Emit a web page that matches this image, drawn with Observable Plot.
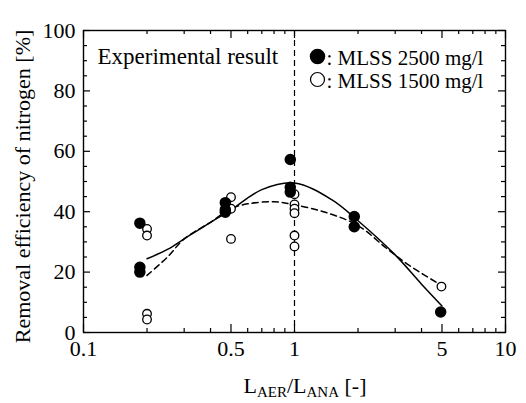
<!DOCTYPE html>
<html><head><meta charset="utf-8">
<script src="https://cdn.jsdelivr.net/npm/d3@7"></script>
<script src="https://cdn.jsdelivr.net/npm/@observablehq/plot@0.6"></script>
<style>body{margin:0;background:#fff}</style>
</head><body><div id="chart"></div>
<script>
// tick values
const xTicks = [0.1, 0.5, 1, 5, 10];
const xTickLabels = ["0.1", "0.5", "1", "5", "10"];
const xMinor = [0.2, 0.3, 0.4, 0.6, 0.7, 0.8, 0.9, 2, 3, 4, 6, 7, 8, 9];
const yTicks = [0, 20, 40, 60, 80, 100];
const yMinor = [5, 10, 15, 25, 30, 35, 45, 50, 55, 65, 70, 75, 85, 90, 95];

// MLSS 2500 mg/l (filled)
const highX = [0.185, 0.185, 0.185, 0.47, 0.47, 0.47, 0.955, 0.955, 0.955, 1.92, 1.92, 4.93];
const highY = [36.2, 21.6, 20.0, 43.0, 40.6, 39.8, 57.3, 48.1, 46.5, 38.4, 35.0, 6.8];
// MLSS 1500 mg/l (open)
const lowX = [0.2, 0.2, 0.2, 0.2, 0.5, 0.5, 0.5, 1, 1, 1, 1, 1, 1, 4.97];
const lowY = [34.3, 32.1, 6.2, 4.3, 44.8, 41.0, 31.0, 45.8, 42.4, 41.0, 39.5, 32.1, 28.5, 15.2];

// fitted curves
const fitHighX = [0.2, 0.25, 0.3, 0.4, 0.5, 0.7, 1, 1.5, 2, 3, 4, 5];
const fitHighY = [24.4, 27.5, 31.0, 36.5, 40.6, 47.3, 49.5, 44.0, 37.0, 25.7, 16.0, 8.8];
const fitLowX = [0.2, 0.25, 0.3, 0.4, 0.5, 0.6, 0.8, 1, 1.4, 2, 2.75, 3.5, 5];
const fitLowY = [18.9, 25.0, 31.0, 36.5, 41.0, 42.6, 43.3, 42.3, 39.8, 35.4, 27.7, 22.2, 15.5];

const legendLabels = [": MLSS 2500 mg/l", ": MLSS 1500 mg/l"];
const annotation = "Experimental result";
const yLabel = "Removal efficiency of nitrogen [%]";

const high = highX.map((x, i) => ({x, y: highY[i]}));
const low = lowX.map((x, i) => ({x, y: lowY[i]}));
const fitHigh = fitHighX.map((x, i) => ({x, y: fitHighY[i]}));
const fitLow = fitLowX.map((x, i) => ({x, y: fitLowY[i]}));

const W = 526, H = 403, mL = 83, mR = 21, mT = 30, mB = 71;
const FW = W - mL - mR, FH = H - mT - mB;
const font = "Liberation Serif, Times New Roman, serif";

const svg = Plot.plot({
  width: W, height: H,
  marginLeft: mL, marginRight: mR, marginTop: mT, marginBottom: mB,
  style: {fontFamily: font, background: "white", color: "black"},
  x: {type: "log", domain: [0.1, 10]},
  y: {domain: [0, 100]},
  marks: [
    Plot.frame({stroke: "black", strokeWidth: 1.4}),
    // inward ticks
    Plot.tickY(yTicks, {y: d => d, insetRight: FW - 7, stroke: "black", strokeWidth: 1.2}),
    Plot.tickY(yMinor, {y: d => d, insetRight: FW - 4, stroke: "black", strokeWidth: 1.2}),
    Plot.tickY(yTicks, {y: d => d, insetLeft: FW - 7, stroke: "black", strokeWidth: 1.2}),
    Plot.tickY(yMinor, {y: d => d, insetLeft: FW - 4, stroke: "black", strokeWidth: 1.2}),
    Plot.tickX(xTicks, {x: d => d, insetTop: FH - 8, stroke: "black", strokeWidth: 1.2}),
    Plot.tickX(xMinor, {x: d => d, insetTop: FH - 4, stroke: "black", strokeWidth: 1.2}),
    Plot.tickX(xTicks, {x: d => d, insetBottom: FH - 8, stroke: "black", strokeWidth: 1.2}),
    Plot.tickX(xMinor, {x: d => d, insetBottom: FH - 4, stroke: "black", strokeWidth: 1.2}),
    Plot.axisX({ticks: xTicks, tickFormat: d => xTickLabels[xTicks.indexOf(d)], tickSize: 0, tickPadding: 8, fontSize: 22, fontFamily: font, fill: "black", label: null}),
    Plot.axisY({ticks: yTicks, tickSize: 0, tickPadding: 8, fontSize: 22, fontFamily: font, fill: "black", label: null}),
    // vertical reference at 1
    Plot.ruleX([1], {stroke: "black", strokeWidth: 1.2, strokeDasharray: "6,4"}),
    // fitted curves
    Plot.line(fitHigh, {x: "x", y: "y", curve: "catmull-rom", stroke: "black", strokeWidth: 1.5}),
    Plot.line(fitLow, {x: "x", y: "y", curve: "catmull-rom", stroke: "black", strokeWidth: 1.5, strokeDasharray: "6,4"}),
    // data points
    Plot.dot(low, {x: "x", y: "y", r: 4.3, stroke: "black", fill: "white", strokeWidth: 1.3}),
    Plot.dot(high, {x: "x", y: "y", r: 5, fill: "black", stroke: "black"}),
    // annotation
    Plot.text([annotation], {text: d => d, frameAnchor: "top-left", dx: 14, dy: 33, lineAnchor: "bottom", textAnchor: "start", fontSize: 23, fontFamily: font, fill: "black"}),
    // legend
    Plot.dot([0], {frameAnchor: "top-left", dx: 234, dy: 26, r: 7, fill: "black", stroke: "black"}),
    Plot.dot([0], {frameAnchor: "top-left", dx: 234, dy: 49, r: 7, fill: "white", stroke: "black", strokeWidth: 1.2}),
    Plot.text([legendLabels[0]], {text: d => d, frameAnchor: "top-left", dx: 243, dy: 34, lineAnchor: "bottom", textAnchor: "start", fontSize: 21, fontFamily: font, fill: "black"}),
    Plot.text([legendLabels[1]], {text: d => d, frameAnchor: "top-left", dx: 243, dy: 57, lineAnchor: "bottom", textAnchor: "start", fontSize: 21, fontFamily: font, fill: "black"}),
    // y label
    Plot.text([yLabel], {text: d => d, frameAnchor: "left", textAnchor: "middle", lineAnchor: "middle", dx: -61, dy: 5, rotate: -90, fontSize: 22, fontFamily: font, fill: "black"})
  ]
});

// x-axis title with subscripts
const t = d3.select(svg).append("text")
  .attr("x", 305).attr("y", 393)
  .attr("text-anchor", "middle")
  .attr("font-family", font)
  .attr("font-size", 22)
  .attr("fill", "black");
t.append("tspan").text("L");
t.append("tspan").attr("font-size", 15).attr("dy", 4).text("AER");
t.append("tspan").attr("dy", -4).text("/L");
t.append("tspan").attr("font-size", 15).attr("dy", 4).text("ANA");
t.append("tspan").attr("dy", -4).text(" [-]");

document.getElementById("chart").appendChild(svg);
</script>
</body></html>
